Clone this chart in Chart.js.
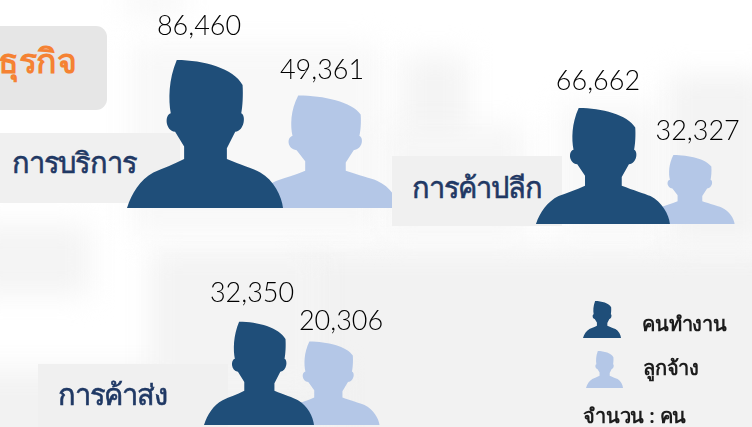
<!DOCTYPE html>
<html lang="th">
<head>
<meta charset="utf-8">
<style>
html,body{margin:0;padding:0;background:#fff;}
#stage{position:relative;width:752px;height:427px;overflow:hidden;background:#fff;font-family:"Noto Sans","Open Sans",sans-serif;}
.bg{position:absolute;filter:blur(14px);}
.panel{position:absolute;background:#f0f0f0;}
.t{position:absolute;white-space:nowrap;line-height:1;}
.s{font-size:29px;font-weight:500;letter-spacing:-1.2px;color:#1f3864;-webkit-text-stroke:.6px #1f3864;}
.l{font-size:20px;font-weight:600;letter-spacing:-.2px;color:#1c1c1c;}
canvas{position:absolute;left:0;top:0;}
.wrap{position:absolute;left:0;top:0;width:752px;height:427px;}
</style>
<script src="https://cdn.jsdelivr.net/npm/chart.js@4"></script>
</head>
<body>
<div id="stage">
  <div class="bg" style="left:300px;top:250px;width:500px;height:220px;background:#f2f2f2"></div>
  <div class="bg" style="left:-40px;top:370px;width:380px;height:100px;background:#f2f2f2"></div>
  <div class="bg" style="left:150px;top:250px;width:170px;height:140px;background:#f3f3f3"></div>
  <div class="bg" style="left:-30px;top:225px;width:120px;height:70px;background:#f4f4f4"></div>
  <div class="bg" style="left:130px;top:45px;width:250px;height:190px;background:#f8f8f8"></div>
  <div class="bg" style="left:125px;top:-10px;width:60px;height:24px;background:#f6f6f6"></div>
  <div class="bg" style="left:402px;top:56px;width:66px;height:100px;background:#f4f4f4"></div>
  <div class="bg" style="left:385px;top:125px;width:140px;height:110px;background:#f6f6f6"></div>
  <div class="bg" style="left:560px;top:105px;width:100px;height:130px;background:#f7f7f7"></div>
  <div class="bg" style="left:668px;top:75px;width:100px;height:170px;background:#f3f3f3"></div>
  <div class="panel" style="left:-40px;top:26px;width:147px;height:84px;border-radius:11px;background:#e6e6e6"></div>
  <div class="t" id="title" style="right:676px;top:43px;font-size:34px;font-weight:700;letter-spacing:-.5px;color:#f58233">ธุรกิจ</div>
  <div class="panel" style="left:0;top:133px;width:180px;height:70px"></div>
  <div class="t s" id="s0" style="left:12px;top:147px"></div>
  <div class="wrap"><canvas id="c0" width="752" height="427"></canvas></div>
  <div class="panel" style="left:392px;top:156px;width:170px;height:70px"></div>
  <div class="t s" id="s1" style="left:412px;top:172px"></div>
  <div class="panel" style="left:38px;top:364px;width:190px;height:63px"></div>
  <div class="t s" id="s2" style="left:58px;top:379px"></div>
  <div class="wrap"><canvas id="c1" width="752" height="427"></canvas></div>
  <div class="wrap"><canvas id="c2" width="752" height="427"></canvas></div>
  <div class="t l" id="leg0" style="left:642px;top:314px"></div>
  <div class="t l" id="leg1" style="left:643px;top:358px"></div>
  <div class="t l" id="unit" style="left:583px;top:406px"></div>
</div>
<script>
// ---- data ----
const sectors = ['การบริการ', 'การค้าปลีก', 'การค้าส่ง'];
const seriesNames = ['คนทำงาน', 'ลูกจ้าง'];
const workers = [86460, 66662, 32350];
const employees = [49361, 32327, 20306];
const unitLabel = 'จำนวน : คน';

// ---- colours ----
const workerColor = '#1f4e79';
const employeeColor = '#b4c7e7';

// ---- layout of each small chart (not data) ----
const layouts = [
  {pad:{left:145, right:367, top:0, bottom:219}, workerMax:121510, employeeMax:91300, workerW:156, employeeW:148, lab:[[-6,-34],[-3,-25]]},
  {pad:{left:559.6, right:19, top:0, bottom:203}, workerMax:128700, employeeMax:104900, workerW:134, employeeW:90, lab:[[-5,-27],[8,-24]]},
  {pad:{left:224.5, right:389.5, top:0, bottom:2}, workerMax:133000, employeeMax:103300, workerW:110, employeeW:103, lab:[[-7,-28],[13,-20]]}
];

function person(ctx, cx, top, base, w, color) {
  const X0 = 381, Y0 = 180, W = 467, H = 445;
  const h = base - top, left = cx - w / 2;
  const px = x => left + (x - X0) / W * w;
  const py = y => top + (y - Y0) / H * h;
  const bez = (a, b, c, d, e, f) => ctx.bezierCurveTo(px(a), py(b), px(c), py(d), px(e), py(f));
  ctx.save();
  ctx.fillStyle = color;
  ctx.beginPath();
  ctx.moveTo(px(530), py(180));
  bez(610, 180, 700, 205, 727, 255);
  bez(729, 285, 727, 320, 723, 340);
  bez(737, 345, 734, 392, 705, 396);
  ctx.lineTo(px(680), py(445));
  ctx.lineTo(px(680), py(478));
  bez(720, 495, 760, 508, 780, 518);
  bez(820, 540, 845, 590, 848, 625);
  ctx.lineTo(px(381), py(625));
  bez(395, 580, 420, 540, 460, 518);
  bez(490, 505, 520, 495, 552, 478);
  ctx.lineTo(px(552), py(440));
  ctx.lineTo(px(525), py(396));
  bez(495, 392, 493, 345, 512, 340);
  bez(505, 300, 505, 240, 530, 180);
  ctx.closePath();
  ctx.fill();
  ctx.restore();
}

const personBars = {
  id: 'personBars',
  beforeDatasetDraw(chart, args) {
    const ctx = chart.ctx;
    args.meta.data.forEach((bar, i) => {
      const v = chart.data.datasets[args.index].data[i];
      if (v == null) return;
      person(ctx, bar.x, bar.y, bar.base, bar.width, chart.data.datasets[args.index].backgroundColor);
    });
    return false;
  },
  afterDraw(chart, args, opts) {
    const ctx = chart.ctx;
    ctx.save();
    ctx.font = '300 27px Lato, "Open Sans", sans-serif';
    ctx.fillStyle = '#000';
    ctx.textAlign = 'center';
    ctx.textBaseline = 'middle';
    chart.data.datasets.forEach((ds, d) => {
      chart.getDatasetMeta(d).data.forEach((bar, i) => {
        const v = ds.data[i];
        if (v == null) return;
        const o = opts.lab[ds.seriesIndex];
        ctx.fillText(v.toLocaleString('en-US'), bar.x + o[0], bar.y + o[1]);
      });
    });
    ctx.restore();
    if (opts.legend) {
      person(ctx, 602, 301, 338, 38, workerColor);
      person(ctx, 604.5, 351, 388, 37, employeeColor);
    }
  }
};

sectors.forEach((name, i) => {
  const L = layouts[i];
  new Chart(document.getElementById('c' + i), {
    type: 'bar',
    plugins: [personBars],
    data: {
      labels: seriesNames,
      datasets: [
        {label: seriesNames[1], seriesIndex: 1, data: [null, employees[i]], yAxisID: 'y2', order: 2, backgroundColor: employeeColor, barThickness: L.employeeW, grouped: false},
        {label: seriesNames[0], seriesIndex: 0, data: [workers[i], null], yAxisID: 'y', order: 1, backgroundColor: workerColor, barThickness: L.workerW, grouped: false}
      ]
    },
    options: {
      responsive: false,
      animation: false,
      layout: {padding: L.pad},
      scales: {
        x: {display: false},
        y: {display: false, min: 0, max: L.workerMax},
        y2: {display: false, min: 0, max: L.employeeMax}
      },
      plugins: {
        legend: {display: false},
        tooltip: {enabled: false},
        title: {display: false},
        personBars: {lab: L.lab, legend: i === 2}
      }
    }
  });
  document.getElementById('s' + i).textContent = name;
});
document.getElementById('leg0').textContent = seriesNames[0];
document.getElementById('leg1').textContent = seriesNames[1];
document.getElementById('unit').textContent = unitLabel;
</script>
</body>
</html>
